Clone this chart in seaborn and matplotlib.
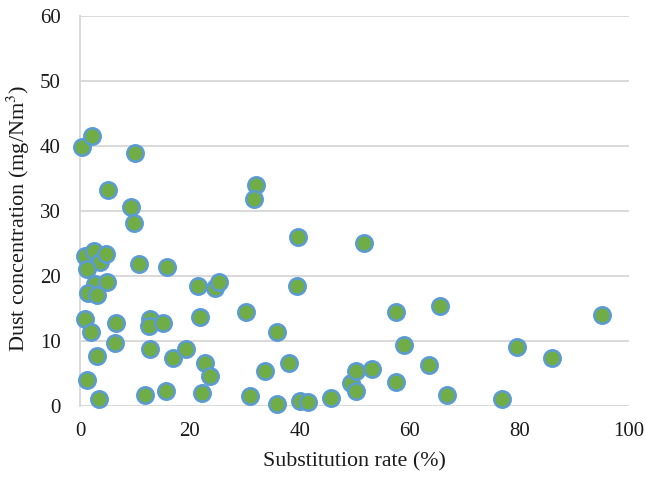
import matplotlib
matplotlib.use("Agg")
import matplotlib.pyplot as plt
import seaborn as sns
import pandas as pd

# Substitution rate (%) and measured dust concentration (mg/Nm3)
substitution_rate = [
    0.4, 2.2, 10.0, 5.1, 9.3, 9.8, 0.9, 2.6, 3.6, 4.7,
    1.3, 10.7, 15.8, 2.7, 4.9, 1.5, 3.1, 0.9, 2.0, 6.6,
    12.7, 12.6, 15.1, 21.9, 30.2, 6.4, 3.1, 12.8, 16.9, 19.3,
    22.8, 23.7, 1.3, 3.5, 11.8, 15.7, 22.2, 31.0, 32.1, 31.7,
    39.7, 51.7, 21.5, 24.6, 25.3, 39.5, 35.9, 57.6, 65.6, 59.0,
    33.7, 38.1, 35.9, 40.1, 41.5, 45.7, 49.4, 50.3, 50.3, 53.2,
    57.6, 63.6, 66.8, 95.1, 79.6, 86.0, 76.9,
]
dust_concentration = [
    39.8, 41.5, 38.9, 33.2, 30.6, 28.1, 23.1, 23.8, 22.1, 23.3,
    21.0, 21.8, 21.4, 18.8, 19.0, 17.4, 17.1, 13.4, 11.4, 12.7,
    13.4, 12.3, 12.7, 13.6, 14.4, 9.7, 7.7, 8.8, 7.4, 8.8,
    6.5, 4.5, 3.9, 1.1, 1.7, 2.2, 1.9, 1.5, 34.0, 31.9,
    25.9, 25.0, 18.4, 18.1, 19.1, 18.5, 11.3, 14.4, 15.3, 9.4,
    5.4, 6.6, 0.2, 0.8, 0.5, 1.2, 3.5, 5.4, 2.2, 5.6,
    3.7, 6.3, 1.7, 14.0, 9.1, 7.4, 1.1,
]
x_ticks = [0, 20, 40, 60, 80, 100]
y_ticks = [0, 10, 20, 30, 40, 50, 60]

df = pd.DataFrame({"rate": substitution_rate, "dust": dust_concentration})

sns.set_style("white")
plt.rcParams["font.family"] = ["Liberation Serif", "DejaVu Serif"]
plt.rcParams["mathtext.fontset"] = "stix"

fig = plt.figure(figsize=(6.46, 4.82), dpi=100)
ax = fig.add_axes([80 / 646, (482 - 405.7) / 482, 549 / 646, (405.7 - 16) / 482])

grid_color = "#D9D9D9"
for yv in y_ticks:
    ax.axhline(yv, color=grid_color, lw=1.4, zorder=0)

sns.scatterplot(
    data=df, x="rate", y="dust", ax=ax,
    s=140, color="#70AD47", edgecolor="#5B9BD5", linewidth=1.8,
    zorder=3, clip_on=False, legend=False,
)

ax.set_xlim(0, 100)
ax.set_ylim(0, 60)
ax.set_xticks(x_ticks)
ax.set_yticks(y_ticks)
ax.tick_params(axis="both", length=0, labelsize=15, colors="#1a1a1a")
ax.tick_params(axis="x", pad=12)
ax.tick_params(axis="y", pad=14)

for side in ["top", "right", "bottom"]:
    ax.spines[side].set_visible(False)
ax.spines["left"].set_color(grid_color)
ax.spines["left"].set_linewidth(1.4)

ax.set_xlabel("Substitution rate (%)", fontsize=15.8, color="#1a1a1a", labelpad=8)
ax.set_ylabel("Dust concentration (mg/Nm$^{3}$)", fontsize=16, color="#1a1a1a")
ax.yaxis.set_label_coords(-0.088, 0.48)

fig.savefig("out.png", dpi=100)
